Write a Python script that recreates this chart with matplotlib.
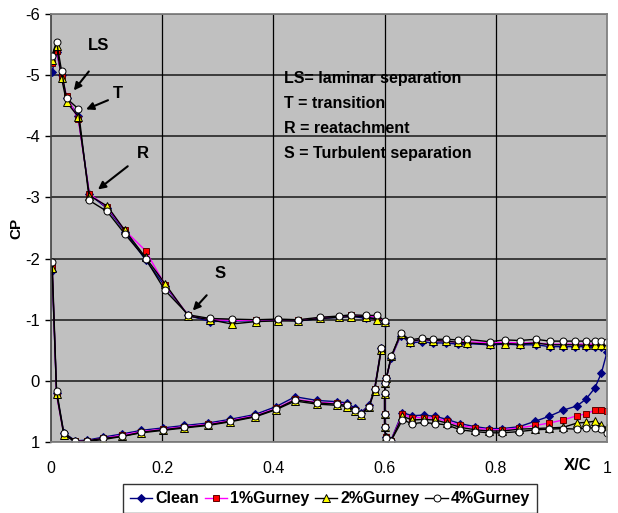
import matplotlib
matplotlib.use("Agg")
import matplotlib.pyplot as plt
from matplotlib.lines import Line2D

plt.rcParams['font.family'] = ['Liberation Sans Narrow', 'Liberation Sans', 'DejaVu Sans']
plt.rcParams['axes.unicode_minus'] = False

# ---------------- data ----------------
series_names = ["Clean", "1%Gurney", "2%Gurney", "4%Gurney"]

# main element, upper surface (LE -> 0.6)
xu = [0.002, 0.010, 0.019, 0.028, 0.049, 0.069, 0.101, 0.133, 0.170, 0.205, 0.247,
      0.286, 0.325, 0.369, 0.408, 0.445, 0.484, 0.518, 0.540, 0.567, 0.587, 0.600]
clean_u = [-5.05, -5.38, -5.00, -4.62, -4.33, -3.05, -2.82, -2.44, -1.98, -1.55, -1.07,
           -0.97, -0.98, -0.98, -1.00, -0.98, -1.02, -1.04, -1.06, -1.02, -1.03, -0.94]
g1_u = [-5.20, -5.40, -4.98, -4.66, -4.28, -3.06, -2.84, -2.46, -2.13, -1.57, -1.07,
        -1.00, -0.99, -0.99, -1.00, -0.99, -1.03, -1.05, -1.07, -1.06, -1.05, -0.97]
g2_u = [-5.25, -5.48, -4.95, -4.56, -4.32, -3.03, -2.86, -2.46, -2.02, -1.59, -1.06,
        -1.00, -0.93, -0.97, -0.98, -0.98, -1.02, -1.04, -1.05, -1.05, -1.00, -0.97]
g4_u = [-5.32, -5.55, -5.07, -4.62, -4.45, -2.95, -2.77, -2.40, -2.00, -1.48, -1.08,
        -1.02, -1.01, -1.00, -1.01, -1.00, -1.04, -1.06, -1.08, -1.07, -1.07, -0.98]

# main element, lower surface (LE -> 0.6)
xl = [0.002, 0.010, 0.023, 0.044, 0.065, 0.094, 0.127, 0.162, 0.201, 0.240, 0.282, 0.322,
      0.367, 0.405, 0.439, 0.478, 0.514, 0.532, 0.547, 0.557, 0.572, 0.582, 0.594]
clean_l = [-1.80, 0.20, 0.85, 0.98, 0.97, 0.92, 0.87, 0.81, 0.77, 0.73, 0.69, 0.63,
           0.55, 0.42, 0.26, 0.32, 0.34, 0.36, 0.45, 0.52, 0.40, 0.13, -0.53]
g1_l = [-1.88, 0.23, 0.87, 0.99, 0.98, 0.94, 0.89, 0.83, 0.79, 0.75, 0.71, 0.65,
        0.57, 0.45, 0.30, 0.35, 0.37, 0.39, 0.47, 0.54, 0.42, 0.14, -0.52]
g2_l = [-1.85, 0.21, 0.88, 1.00, 0.99, 0.96, 0.91, 0.85, 0.81, 0.77, 0.73, 0.67,
        0.59, 0.47, 0.33, 0.38, 0.40, 0.42, 0.49, 0.56, 0.43, 0.16, -0.50]
g4_l = [-1.95, 0.16, 0.85, 0.99, 0.98, 0.94, 0.91, 0.84, 0.80, 0.76, 0.72, 0.66,
        0.58, 0.46, 0.31, 0.36, 0.38, 0.40, 0.48, 0.54, 0.42, 0.14, -0.54]

# rear element, lower side (TE -> LE)
xfl = [1.000, 0.990, 0.978, 0.962, 0.946, 0.921, 0.896, 0.871, 0.842, 0.812, 0.788, 0.763,
       0.736, 0.712, 0.691, 0.670, 0.650, 0.632, 0.611, 0.602, 0.600, 0.600, 0.600, 0.601]
clean_fl = [-0.47, -0.13, 0.12, 0.30, 0.41, 0.48, 0.58, 0.66, 0.75, 0.78, 0.78, 0.75,
            0.70, 0.63, 0.58, 0.56, 0.57, 0.52, 0.98, 0.92, 0.76, 0.55, 0.22, 0.03]
g1_fl = [0.49, 0.47, 0.48, 0.54, 0.57, 0.64, 0.69, 0.73, 0.77, 0.80, 0.80, 0.77,
         0.73, 0.66, 0.61, 0.60, 0.60, 0.55, 0.99, 0.92, 0.76, 0.55, 0.22, 0.03]
g2_fl = [0.77, 0.72, 0.66, 0.68, 0.69, 0.76, 0.77, 0.78, 0.79, 0.82, 0.82, 0.80,
         0.76, 0.69, 0.64, 0.63, 0.64, 0.58, 0.99, 0.92, 0.76, 0.55, 0.22, 0.03]
g4_fl = [0.85, 0.79, 0.77, 0.77, 0.79, 0.78, 0.79, 0.80, 0.83, 0.85, 0.85, 0.83,
         0.80, 0.72, 0.70, 0.68, 0.70, 0.64, 0.99, 0.93, 0.76, 0.55, 0.20, 0.03]

# rear element, upper side (LE -> TE)
xfu = [0.603, 0.612, 0.629, 0.646, 0.667, 0.687, 0.710, 0.732, 0.748, 0.789, 0.816,
       0.843, 0.872, 0.897, 0.921, 0.942, 0.963, 0.978, 0.990, 1.000]
clean_fu = [-0.04, -0.38, -0.74, -0.62, -0.64, -0.62, -0.62, -0.60, -0.61, -0.59, -0.60,
            -0.59, -0.59, -0.56, -0.56, -0.56, -0.56, -0.56, -0.56, -0.55]
g1_fu = [-0.04, -0.39, -0.76, -0.65, -0.67, -0.66, -0.65, -0.63, -0.64, -0.62, -0.63,
         -0.62, -0.62, -0.60, -0.60, -0.60, -0.60, -0.60, -0.60, -0.59]
g2_fu = [-0.04, -0.40, -0.77, -0.64, -0.68, -0.66, -0.65, -0.63, -0.62, -0.60, -0.61,
         -0.60, -0.62, -0.59, -0.59, -0.59, -0.58, -0.58, -0.58, -0.58]
g4_fu = [-0.04, -0.40, -0.78, -0.67, -0.70, -0.68, -0.68, -0.67, -0.68, -0.64, -0.67,
         -0.66, -0.68, -0.65, -0.65, -0.65, -0.65, -0.65, -0.65, -0.63]

xticks = [0, 0.2, 0.4, 0.6, 0.8, 1]
xticklabels = ["0", "0.2", "0.4", "0.6", "0.8", "1"]
yticks = [-6, -5, -4, -3, -2, -1, 0, 1]
yticklabels = ["-6", "-5", "-4", "-3", "-2", "-1", "0", "1"]

key_labels = ["LS= laminar separation", "T = transition", "R = reatachment",
              "S = Turbulent separation"]

# ---------------- styles ----------------
styles = [
    dict(color="#000080", marker="D", mfc="#000080", mec="#000080", ms=4.4),
    dict(color="#FF00FF", marker="s", mfc="#FF0000", mec="#600000", ms=5.0),
    dict(color="#000000", marker="^", mfc="#FFFF00", mec="#000000", ms=5.8),
    dict(color="#000000", marker="o", mfc="#FFFFFF", mec="#000000", ms=5.0),
]
data = [
    (clean_u, clean_l, clean_fl, clean_fu),
    (g1_u, g1_l, g1_fl, g1_fu),
    (g2_u, g2_l, g2_fl, g2_fu),
    (g4_u, g4_l, g4_fl, g4_fu),
]

fig = plt.figure(figsize=(6.18, 5.13), dpi=100)
ax = fig.add_axes([51 / 618, 1 - 442 / 513, 556 / 618, 428 / 513])
ax.set_facecolor("#C0C0C0")

for (u, l, fl, fu), st in zip(data, styles):
    kw = dict(color=st["color"], lw=1.0, marker=st["marker"], mfc=st["mfc"],
              mec=st["mec"], ms=st["ms"], mew=0.7)
    ax.plot(xu, u, **kw)
    ax.plot(xl, l, **kw)
    ax.plot(list(xfl) + list(xfu), list(fl) + list(fu), **kw)

ax.set_xlim(0, 1)
ax.set_ylim(1, -6)
ax.set_xticks(xticks)
ax.set_xticklabels(xticklabels)
ax.set_yticks(yticks)
ax.set_yticklabels(yticklabels)
ax.tick_params(axis="x", length=0, pad=14, labelsize=11.5)
ax.tick_params(axis="y", length=4, width=1, pad=4, labelsize=12, direction="out")

for y in yticks:
    ax.axhline(y, color="#303030", lw=1.3, zorder=0.5)
for x in xticks[1:-1]:
    ax.axvline(x, color="#000000", lw=0.9, zorder=0.5)
for side in ["top", "right", "bottom"]:
    ax.spines[side].set_color("#808080")
    ax.spines[side].set_linewidth(1.3)
ax.spines["left"].set_color("#404040")
ax.spines["left"].set_linewidth(1.2)

ax.set_ylabel("CP", fontsize=11, fontweight="bold", labelpad=1)
fig.text(578 / 618, 1 - 465 / 513, "X/C", fontsize=12, fontweight="bold",
         ha="center", va="center")

# annotations
arrow = dict(arrowstyle="-|>", color="black", lw=1.5, mutation_scale=11,
             shrinkA=0, shrinkB=0)
ann = [("LS", (0.041, -4.75), (0.068, -5.06), (0.085, -5.48)),
       ("T", (0.063, -4.44), (0.1025, -4.59), (0.121, -4.70)),
       ("R", (0.0845, -3.13), (0.138, -3.51), (0.166, -3.72)),
       ("S", (0.255, -1.15), (0.280, -1.40), (0.304, -1.76))]
for lab, head, tail, tpos in ann:
    ax.annotate("", xy=head, xytext=tail, arrowprops=arrow)
    ax.text(tpos[0], tpos[1], lab, fontsize=12, fontweight="bold", ha="center", va="center")

for i, t in enumerate(key_labels):
    ax.text(0.419, -4.95 + i * 0.41, t, fontsize=11.5, fontweight="bold", ha="left", va="center")

handles = [Line2D([0], [0], color=st["color"], lw=1.0, marker=st["marker"], mfc=st["mfc"],
                  mec=st["mec"], ms=st["ms"], mew=0.7) for st in styles]
leg = fig.legend(handles, series_names, loc="upper center", bbox_to_anchor=(0.534, 1 - 484 / 513),
                 ncol=4, frameon=True, fancybox=False, edgecolor="black", handlelength=1.4,
                 handletextpad=0.2, columnspacing=0.35, borderpad=0.45, borderaxespad=0,
                 prop=dict(weight="bold", size=11.5))
leg.get_frame().set_linewidth(1.0)

fig.savefig("out.png", dpi=100)
